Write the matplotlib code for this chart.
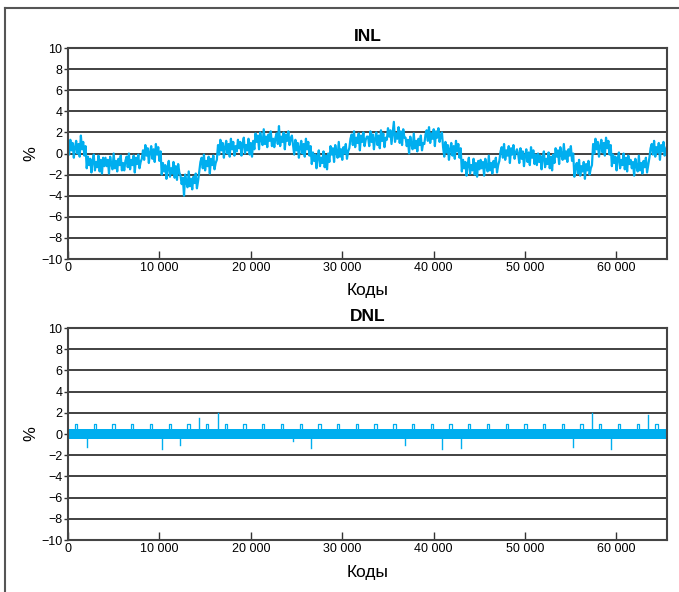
import matplotlib
matplotlib.use('Agg')
import matplotlib.pyplot as plt
from matplotlib.lines import Line2D
import numpy as np

plt.rcParams['font.family'] = ['Liberation Sans', 'DejaVu Sans']

# INL, %, read every 128 codes (one row = 2048 codes)
inl = [
    0.8, -0.1, 1.3, 0.3, 1.0, -0.4, 0.6, 1.2, 0.0, 0.9, -0.3, 1.7, 0.4, 1.1, -0.2, 0.7,
    -1.4, -0.3, -1.1, -0.5, -1.8, -0.7, -0.1, -1.6, -0.8, -1.3, -0.2, -1.7, -0.6, -1.9, -0.4, -1.2,
    -0.4, -1.2, -0.6, -1.9, -0.3, -1.0, -1.5, 0.0, -1.4, -0.7, -1.7, -0.5, -1.1, -0.2, -1.6, -0.9,
    -1.6, -0.7, -0.3, -1.3, 0.0, -1.5, -0.6, -1.1, -0.2, -1.8, -0.4, -1.0, -0.1, -1.4, -0.8, -0.5,
    0.3, -0.6, 0.8, -0.2, 0.5, -0.9, 0.1, 0.7, -0.5, 0.4, -0.8, 0.9, -0.1, 0.6, -0.7, 0.2,
    -2.0, -0.9, -1.7, -1.1, -2.4, -1.3, -0.7, -2.2, -1.4, -1.9, -0.8, -2.3, -1.2, -2.5, -1.0, -1.8,
    -2.1, -2.9, -2.3, -4.0, -2.0, -2.7, -3.2, -1.7, -3.1, -2.4, -3.4, -2.2, -2.8, -1.9, -3.3, -2.6,
    -1.7, -0.8, -0.4, -1.4, -0.1, -1.6, -0.7, -1.2, -0.3, -1.9, -0.5, -1.1, -0.2, -1.5, -0.9, -0.6,
    0.8, -0.1, 1.3, 0.3, 1.0, -0.4, 0.6, 1.2, 0.0, 0.9, -0.3, 1.4, 0.4, 1.1, -0.2, 0.7,
    0.2, 1.3, 0.5, 1.1, -0.2, 0.9, 1.5, 0.0, 0.8, 0.3, 1.4, -0.1, 1.0, -0.3, 1.2, 0.4,
    1.9, 1.1, 1.7, 0.4, 2.0, 1.3, 0.8, 2.3, 0.9, 1.6, 0.6, 1.8, 1.2, 2.1, 0.7, 1.4,
    0.6, 1.5, 1.9, 0.9, 2.6, 0.7, 1.6, 1.1, 2.0, 0.4, 1.8, 1.2, 2.1, 0.8, 1.4, 1.7,
    0.8, -0.1, 1.3, 0.3, 1.0, -0.4, 0.6, 1.2, 0.0, 0.9, -0.3, 1.4, 0.4, 1.1, -0.2, 0.7,
    -1.0, 0.1, -0.7, -0.1, -1.4, -0.3, 0.3, -1.2, -0.4, -0.9, 0.2, -1.3, -0.2, -1.5, 0.0, -0.8,
    0.7, -0.1, 0.5, -0.8, 0.8, 0.1, -0.4, 1.1, -0.3, 0.4, -0.6, 0.6, 0.0, 0.9, -0.5, 0.2,
    0.5, 1.4, 1.8, 0.8, 2.1, 0.6, 1.5, 1.0, 1.9, 0.3, 1.7, 1.1, 2.0, 0.7, 1.3, 1.6,
    1.6, 0.7, 2.1, 1.1, 1.8, 0.4, 1.4, 2.0, 0.8, 1.7, 0.5, 2.2, 1.2, 1.9, 0.6, 1.5,
    1.3, 2.4, 1.6, 2.2, 0.9, 2.0, 3.0, 1.1, 1.9, 1.4, 2.5, 1.0, 2.1, 0.8, 2.3, 1.5,
    1.5, 0.7, 1.3, 0.0, 1.6, 0.9, 0.4, 1.9, 0.5, 1.2, 0.2, 1.4, 0.8, 1.7, 0.3, 1.0,
    0.9, 1.8, 2.2, 1.2, 2.5, 1.0, 1.9, 1.4, 2.3, 0.7, 2.1, 1.5, 2.4, 1.1, 1.7, 2.0,
    0.6, -0.3, 1.1, 0.1, 0.8, -0.6, 0.4, 1.0, -0.2, 0.7, -0.5, 1.2, 0.2, 0.9, -0.4, 0.5,
    -1.7, -0.6, -1.4, -0.8, -2.1, -1.0, -0.4, -1.9, -1.1, -1.6, -0.5, -2.0, -0.9, -2.2, -0.7, -1.5,
    -0.6, -1.4, -0.8, -2.1, -0.5, -1.2, -1.7, -0.2, -1.6, -0.9, -1.9, -0.7, -1.3, -0.4, -1.8, -1.1,
    -0.7, 0.2, 0.6, -0.4, 0.9, -0.6, 0.3, -0.2, 0.7, -0.9, 0.5, -0.1, 0.8, -0.5, 0.1, 0.4,
    0.0, -0.9, 0.5, -0.5, 0.2, -1.2, -0.2, 0.4, -0.8, 0.1, -1.1, 0.6, -0.4, 0.3, -1.0, -0.1,
    -1.1, 0.0, -0.8, -0.2, -1.5, -0.4, 0.2, -1.3, -0.5, -1.0, 0.1, -1.4, -0.3, -1.6, -0.1, -0.9,
    0.5, -0.3, 0.3, -1.0, 0.6, -0.1, -0.6, 0.9, -0.5, 0.2, -0.8, 0.4, -0.2, 0.7, -0.7, 0.0,
    -2.2, -1.3, -0.9, -1.9, -0.6, -2.1, -1.2, -1.7, -0.8, -2.4, -1.0, -1.6, -0.7, -2.0, -1.4, -1.1,
    0.9, 0.0, 1.4, 0.4, 1.1, -0.3, 0.7, 1.3, 0.1, 1.0, -0.2, 1.5, 0.5, 1.2, -0.1, 0.8,
    -1.2, -0.1, -0.9, -0.3, -1.6, -0.5, 0.1, -1.4, -0.6, -1.1, 0.0, -1.5, -0.4, -1.7, -0.2, -1.0,
    -0.6, -1.4, -0.8, -2.1, -0.5, -1.2, -1.7, -0.2, -1.6, -0.9, -1.9, -0.7, -1.3, -0.4, -1.8, -1.1,
    -0.4, 0.5, 0.9, -0.1, 1.2, -0.3, 0.6, 0.1, 1.0, -0.6, 0.8, 0.2, 1.1, -0.2, 0.4, 0.7,
]

# DNL: dense band plus single-code spikes
dnl_band_lo, dnl_band_hi = -0.5, 0.5
hook_codes = [768 + 2048 * k for k in range(32)]
hook_level = 0.95
spike_codes = [2048, 10240, 12288, 14336, 16384, 24576, 26624, 36864,
               40960, 43008, 55296, 57344, 59392, 63488]
spike_vals = [-1.2, -1.45, -1.0, 1.5, 1.95, -0.7, -1.35, -1.05,
              -1.45, -1.3, -1.2, 1.95, -1.45, 1.8]

n_codes = 65535
xticks = [0, 10000, 20000, 30000, 40000, 50000, 60000]
xticklabels = ['0', '10 000', '20 000', '30 000', '40 000', '50 000', '60 000']
yticks = list(range(-10, 11, 2))
yticklabels = [str(v).replace('-', '\u2212') for v in yticks]

blue = '#00aeef'
dark = '#333333'

fig = plt.figure(figsize=(6.79, 5.92), dpi=100)
ax1 = fig.add_axes([0.1001, 0.5625, 0.8822, 0.3564])
ax2 = fig.add_axes([0.1001, 0.0878, 0.8822, 0.3581])

x_inl = np.linspace(0, n_codes, len(inl))
ax1.plot(x_inl, inl, color=blue, lw=1.6)

ax2.fill_between([0, n_codes], dnl_band_lo, dnl_band_hi, color=blue, lw=0)
for c in hook_codes:
    ax2.plot([c, c, c + 250, c + 250], [dnl_band_hi, hook_level, hook_level, dnl_band_hi],
             color=blue, lw=0.9)
for c, v in zip(spike_codes, spike_vals):
    ax2.plot([c, c], [0, v], color=blue, lw=1.0)

for ax, title in ((ax1, 'INL'), (ax2, 'DNL')):
    ax.set_xlim(0, n_codes)
    ax.set_ylim(-10, 10)
    ax.set_yticks(yticks)
    ax.set_yticklabels(yticklabels)
    ax.set_xticks(xticks)
    ax.set_xticklabels(xticklabels)
    ax.tick_params(axis='x', direction='in', length=6, width=1.0, colors=dark,
                   labelsize=9, labelcolor='black', pad=2)
    ax.tick_params(axis='y', direction='out', length=3, width=1.0, colors=dark,
                   labelsize=9, labelcolor='black', pad=1)
    for y in yticks[1:-1]:
        ax.axhline(y, color=dark, lw=1.3, zorder=0)
    for s in ax.spines.values():
        s.set_color('#444444')
        s.set_linewidth(1.5)
    ax.set_title(title, fontsize=12.5, fontweight='bold', pad=5)
    ax.set_xlabel('Коды', fontsize=12.5, labelpad=7)
    ax.set_ylabel('%', fontsize=12)
    ax.yaxis.set_label_coords(-0.05, 0.5)

# outer frame
fig.add_artist(Line2D([5 / 679, 5 / 679], [0, 1 - 8 / 592], color='#555555', lw=1.5))
fig.add_artist(Line2D([5 / 679, 1], [1 - 8 / 592, 1 - 8 / 592], color='#555555', lw=1.5))

fig.savefig('out.png', dpi=100)
